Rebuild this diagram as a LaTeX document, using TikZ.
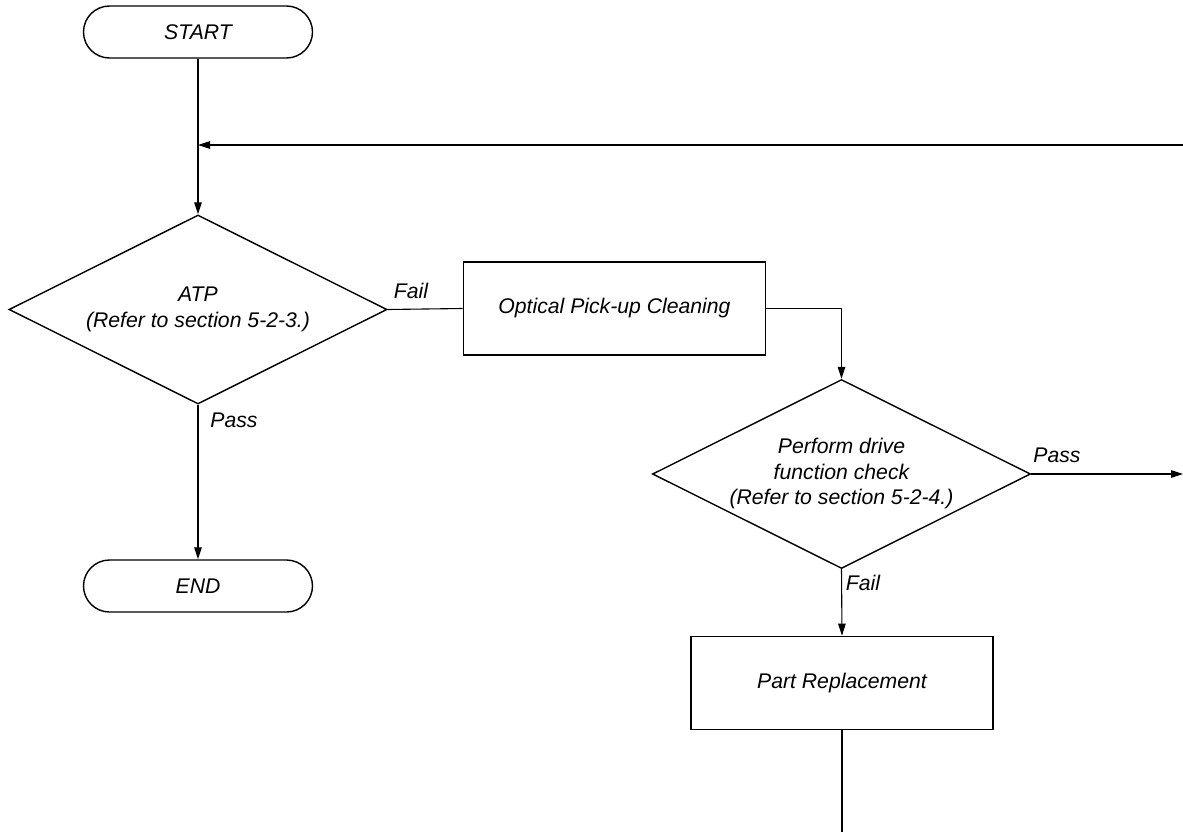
\documentclass[tikz,border=0pt]{standalone}
\usepackage{fontspec}
\setmainfont{Liberation Sans}
\usetikzlibrary{shapes.geometric,arrows.meta}
\begin{document}
\begin{tikzpicture}[x=1pt,y=-1pt,
  every node/.style={font=\fontsize{21.2}{25.5}\selectfont\itshape},
  term/.style={draw,line width=1.4pt,rounded corners=26pt,minimum width=229pt,minimum height=52pt,inner sep=0pt},
  procbox/.style={draw,line width=1.6pt,minimum width=302pt,minimum height=93pt,inner sep=0pt},
  decide/.style={draw,line width=1.4pt,shape=diamond,aspect=2,inner sep=0pt,minimum width=378pt,minimum height=189pt,align=center},
  conn/.style={line width=1.1pt},
  arr/.style={conn,-{Triangle[length=12pt,width=7.5pt]}},
  lbl/.style={inner sep=0pt}]
\useasboundingbox (0,0) rectangle (1183,832);
\node[term] (start) at (198,32) {START};
\node[decide] (atp) at (198,309.5) {ATP\\(Refer to section 5-2-3.)};
\node[procbox] (opt) at (614.5,308.5) {Optical Pick-up Cleaning};
\node[decide] (chk) at (841.5,474) {Perform drive\\function check\\(Refer to section 5-2-4.)};
\node[procbox] (part) at (842,683) {Part Replacement};
\node[term] (end) at (198,586) {END};
\coordinate (rin) at (1183,145);
\coordinate (join) at (198,145);
\coordinate (pout) at (1183,474);
\coordinate (bot) at (842,832);
\draw[arr] (start.south) -- (atp.north);
\draw[arr] (rin) -- (join);
\draw[conn] (atp.east) -- (opt.west);
\draw[arr] (opt.east) -| (chk.north);
\draw[arr] (chk.east) -- (pout);
\draw[arr] (chk.south) -- (part.north);
\draw[conn] (part.south) -- (bot);
\draw[arr] (atp.south) -- (end.north);
\node[lbl] (f1) at (411,291) {Fail};
\node[lbl] (p1) at (234,420) {Pass};
\node[lbl] (p2) at (1057,455) {Pass};
\node[lbl] (f2) at (863,583) {Fail};
\end{tikzpicture}
\end{document}
